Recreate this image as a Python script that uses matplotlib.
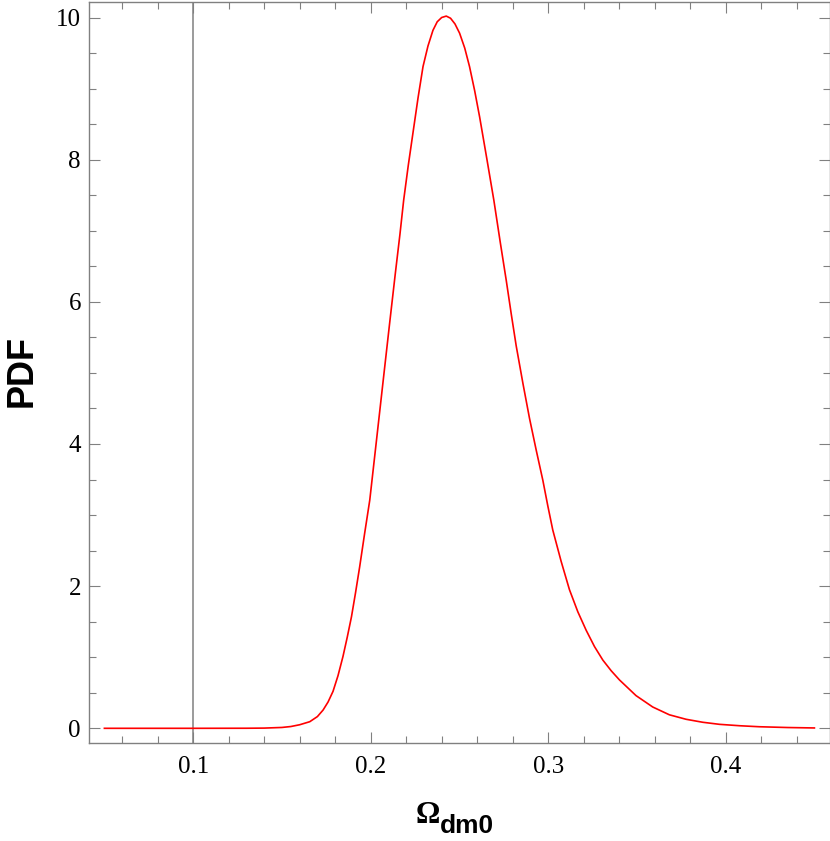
import matplotlib

matplotlib.use("Agg")
import matplotlib.pyplot as plt
from matplotlib.ticker import MultipleLocator

# values
omega = [0.05, 0.10, 0.13, 0.14, 0.15, 0.155, 0.16, 0.1657, 0.17, 0.1732,
         0.176, 0.1788, 0.1816, 0.1844, 0.1868, 0.1892, 0.1915, 0.1938, 0.1966,
         0.1995, 0.2035, 0.2075, 0.2107, 0.2139, 0.2165, 0.2186, 0.2212, 0.2238,
         0.2267, 0.2295, 0.2323, 0.2351, 0.2375, 0.2400, 0.2426, 0.2450, 0.2475,
         0.2501, 0.2530, 0.2557, 0.2586, 0.2614, 0.2654, 0.2694, 0.2730, 0.2764,
         0.2792, 0.2820, 0.2858, 0.2895, 0.2933, 0.2970, 0.2998, 0.3026, 0.3073,
         0.3120, 0.3167, 0.3214, 0.3261, 0.3308, 0.3355, 0.3402, 0.3495, 0.3589,
         0.3683, 0.3777, 0.3871, 0.3965, 0.408, 0.419, 0.435, 0.45]
pdf = [0.0, 0.0, 0.001, 0.003, 0.012, 0.025, 0.05, 0.093, 0.165, 0.257,
       0.37, 0.52, 0.74, 1.01, 1.28, 1.57, 1.91, 2.27, 2.74,
       3.21, 4.10, 4.99, 5.70, 6.40, 6.95, 7.43, 7.92, 8.37,
       8.87, 9.31, 9.60, 9.82, 9.94, 10.00, 10.02, 9.99, 9.91,
       9.78, 9.57, 9.31, 8.97, 8.60, 8.02, 7.43, 6.84, 6.30,
       5.83, 5.38, 4.85, 4.36, 3.91, 3.49, 3.13, 2.79, 2.35,
       1.95, 1.64, 1.38, 1.15, 0.96, 0.81, 0.68, 0.46, 0.30,
       0.19, 0.127, 0.085, 0.056, 0.036, 0.022, 0.011, 0.005]
marker_x = 0.1
x_major = [0.1, 0.2, 0.3, 0.4]
y_major = [0, 2, 4, 6, 8, 10]

frame_gray = "#808080"

fig = plt.figure(figsize=(8.3, 8.41), dpi=100)
ax = fig.add_axes([0.1076, 0.1165, 0.8918, 0.8811])

ax.axvline(marker_x, color=frame_gray, lw=1.1)
ax.plot(omega, pdf, color="#ff0000", lw=1.2)

ax.set_xlim(0.0415, 0.4585)
ax.set_ylim(-0.207, 10.218)
ax.set_xticks(x_major, [f"{v:g}" for v in x_major])
ax.set_yticks(y_major, [str(v) for v in y_major])
ax.xaxis.set_minor_locator(MultipleLocator(0.02))
ax.yaxis.set_minor_locator(MultipleLocator(0.5))

for spine in ax.spines.values():
    spine.set_color(frame_gray)
    spine.set_linewidth(1.0)
ax.tick_params(which="both", direction="in", top=True, right=True,
               color=frame_gray, width=0.8)
ax.tick_params(which="major", length=8)
ax.tick_params(which="minor", length=5)
ax.tick_params(axis="x", pad=9)
ax.tick_params(axis="y", pad=6)
for lab in ax.get_xticklabels() + ax.get_yticklabels():
    lab.set_fontfamily("Liberation Serif")
    lab.set_fontsize(18)

fig.text(21.7 / 830, 1 - 370.7 / 841, "PDF", rotation=90, ha="center",
         va="center", fontsize=26, fontweight="bold", family="Liberation Sans")
fig.text(416 / 830, 1 - 823 / 841, "\u03a9", ha="left", va="baseline",
         fontsize=22, fontweight="bold", family="Liberation Serif")
fig.text(440 / 830, 1 - 833 / 841, "dm0", ha="left", va="baseline",
         fontsize=19, fontweight="bold", family="Liberation Sans")

fig.savefig("out.png", dpi=100)
